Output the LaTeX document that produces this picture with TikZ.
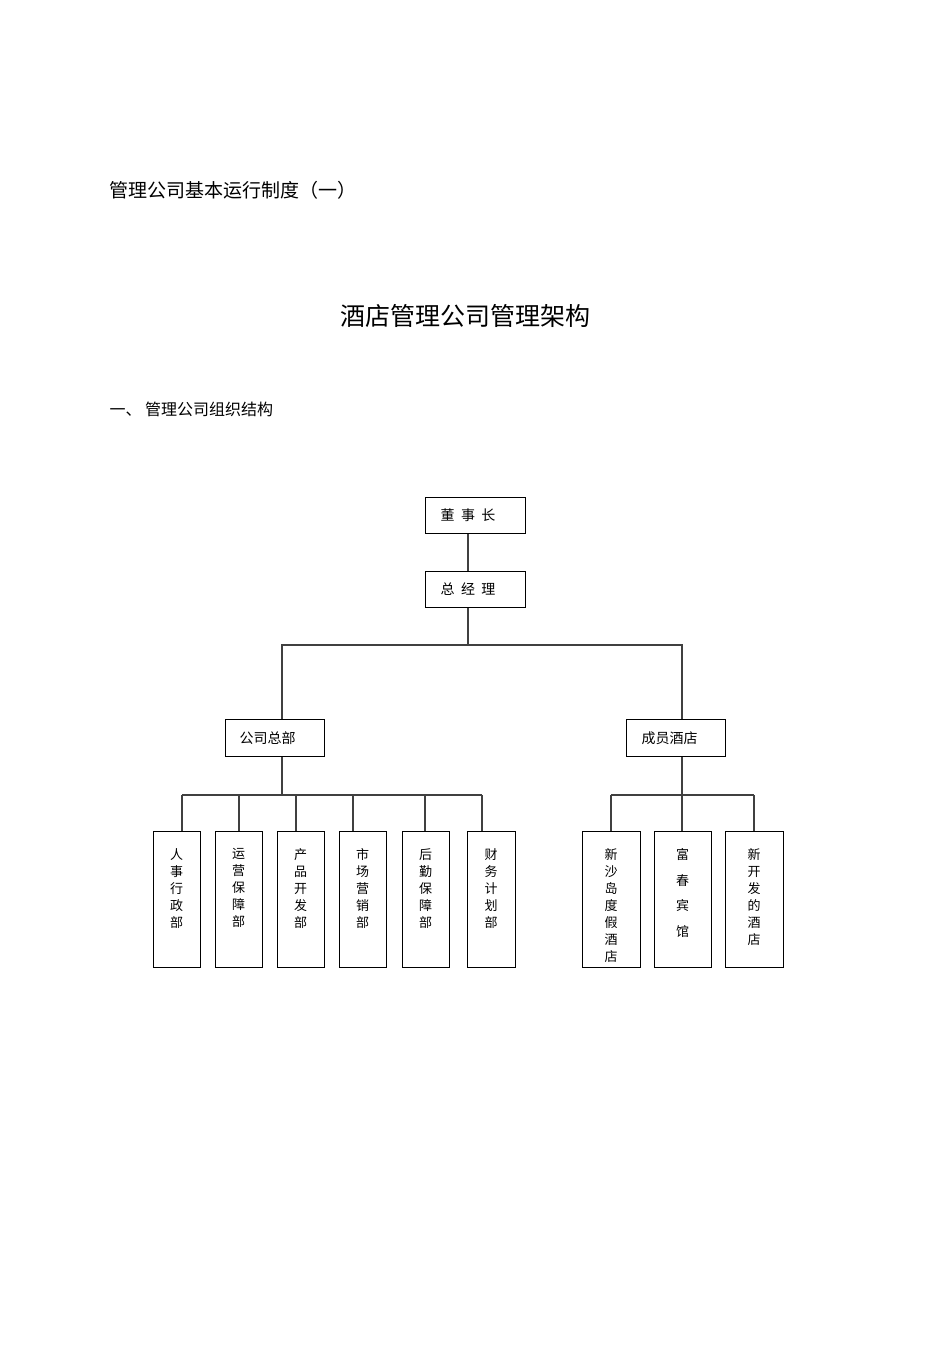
\documentclass[tikz,border=0pt]{standalone}
\usepackage{fontspec}
\newfontfamily\cjk{Noto Sans CJK SC}
\begin{document}
\begin{tikzpicture}[x=1pt,y=-1pt,
  bx/.style={draw,line width=1.2pt,anchor=north west,inner sep=0pt},
  vt/.style={font=\cjk\fontsize{13}{17}\selectfont,align=center,anchor=north},
  ln/.style={line width=1.1pt,draw=black!75}]
\useasboundingbox (0,0) rectangle (950,1345);
\node[anchor=west,font=\cjk\fontsize{19}{22}\selectfont] (t1) at (106,190) {管理公司基本运行制度（一）};
\node[font=\cjk\fontsize{25}{28}\selectfont] (t2) at (465,316) {酒店管理公司管理架构};
\node[anchor=west,font=\cjk\fontsize{16}{20}\selectfont] (t3) at (106,409) {一、 管理公司组织结构};
% boxes
\node[bx,minimum width=100pt,minimum height=36pt] (dsz) at (425,497) {};
\node[font=\cjk\fontsize{14}{16}\selectfont] at (468,515) {董\ \ 事\ \ 长};
\node[bx,minimum width=100pt,minimum height=36pt] (zjl) at (425,571) {};
\node[font=\cjk\fontsize{14}{16}\selectfont] at (468,589) {总\ \ 经\ \ 理};
\node[bx,minimum width=99pt,minimum height=37pt] (gs) at (225,719) {};
\node[font=\cjk\fontsize{14}{16}\selectfont,anchor=west] at (236,738) {公司总部};
\node[bx,minimum width=99pt,minimum height=37pt] (cy) at (626,719) {};
\node[font=\cjk\fontsize{14}{16}\selectfont,anchor=west] at (638,738) {成员酒店};
% connectors
\coordinate (j1) at (468,645);
\draw[ln] (dsz.south -| j1) -- (zjl.north -| j1);
\draw[ln] (zjl.south -| j1) -- (j1);
\draw[ln] (gs.north -| 282,0) |- (j1) -| (cy.north -| 682,0);
\coordinate (j2) at (282,795);
\coordinate (j3) at (682,795);
\draw[ln] (gs.south -| j2) -- (j2);
\draw[ln] (cy.south -| j3) -- (j3);
\draw[ln] (182,795) -- (482,795);
\draw[ln] (611,795) -- (754,795);
% departments
\foreach \n/\x/\w/\lx/\t in {d1/153/47/182/人\\事\\行\\政\\部, d2/215/47/239/运\\营\\保\\障\\部, d3/277/47/296/产\\品\\开\\发\\部, d4/339/47/353/市\\场\\营\\销\\部, d5/402/47/425/后\\勤\\保\\障\\部, d6/467/48/482/财\\务\\计\\划\\部, h1/582/58/611/新\\沙\\岛\\度\\假\\酒\\店, h3/725/58/754/新\\开\\发\\的\\酒\\店}{
  \node[bx,minimum width=\w pt,minimum height=136pt] (\n) at (\x,831) {};
  \node[vt] at (\x+\w/2,845) {\t};
  \draw[ln] (\lx,795) -- (\lx,831);
}
\node[bx,minimum width=57pt,minimum height=136pt] (h2) at (654,831) {};
\node[vt,font=\cjk\fontsize{13}{25.5}\selectfont] at (682.5,845) {富\\春\\宾\\馆};
\draw[ln] (j3) -- (h2.north -| j3);
\end{tikzpicture}
\end{document}
